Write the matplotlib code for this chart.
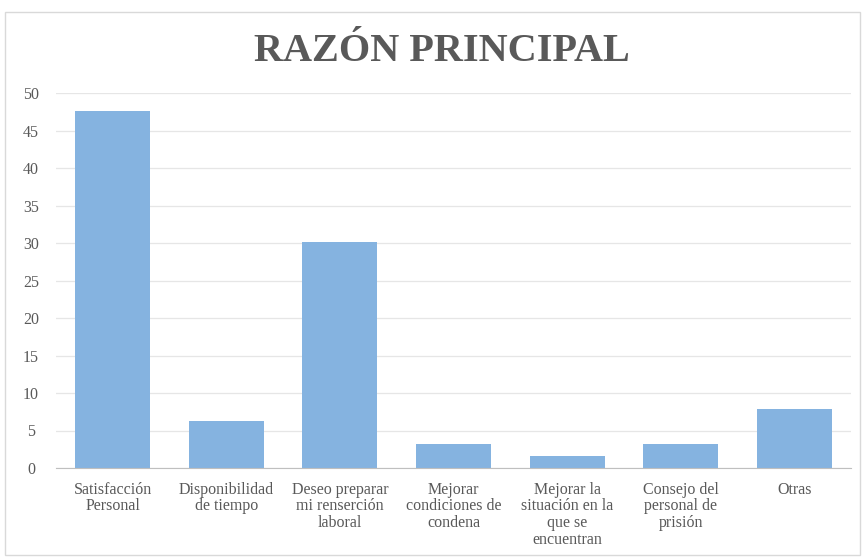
import matplotlib.pyplot as plt
from matplotlib.patches import Rectangle

categories = [
    "Satisfacción\nPersonal",
    "Disponibilidad\nde tiempo",
    "Deseo preparar\nmi renserción\nlaboral",
    "Mejorar\ncondiciones de\ncondena",
    "Mejorar la\nsituación en la\nque se\nencuentran",
    "Consejo del\npersonal de\nprisión",
    "Otras",
]
values = [47.6, 6.3, 30.2, 3.2, 1.6, 3.2, 7.9]
yticks = list(range(0, 51, 5))

gray = "#595959"
plt.rcParams["font.family"] = ["Liberation Serif", "DejaVu Serif"]

fig = plt.figure(figsize=(8.64, 5.58), dpi=100)
ax = fig.add_axes([56 / 864, 1 - 468 / 558, 795 / 864, (468 - 93) / 558])

x = range(len(categories))
ax.bar(x, values, width=0.66, color="#85b3e0", zorder=2)

ax.set_xlim(-0.5, len(categories) - 0.5)
ax.set_ylim(0, 50)
ax.set_yticks(yticks)
ax.set_yticklabels([str(t) for t in yticks], fontsize=11.5, color=gray)
ax.set_xticks(list(x))
ax.set_xticklabels(categories, fontsize=11.5, color=gray, linespacing=1.05)
ax.tick_params(length=0)
ax.tick_params(axis="x", pad=10)
ax.tick_params(axis="y", pad=18)
for lbl in ax.get_yticklabels():
    lbl.set_horizontalalignment("center")

ax.grid(axis="y", color="#e6e6e6", linewidth=0.9, zorder=0)
for side in ["top", "right", "left"]:
    ax.spines[side].set_visible(False)
ax.spines["bottom"].set_color("#bfbfbf")

fig.text(0.511, 0.907, "RAZÓN PRINCIPAL", ha="center", va="center",
         fontsize=29, fontweight="bold", color=gray)

fig.patches.append(Rectangle((5 / 864, 3 / 558), 855 / 864, 543 / 558,
                             transform=fig.transFigure, fill=False,
                             edgecolor="#d9d9d9", linewidth=1))

fig.savefig("out.png", dpi=100)
